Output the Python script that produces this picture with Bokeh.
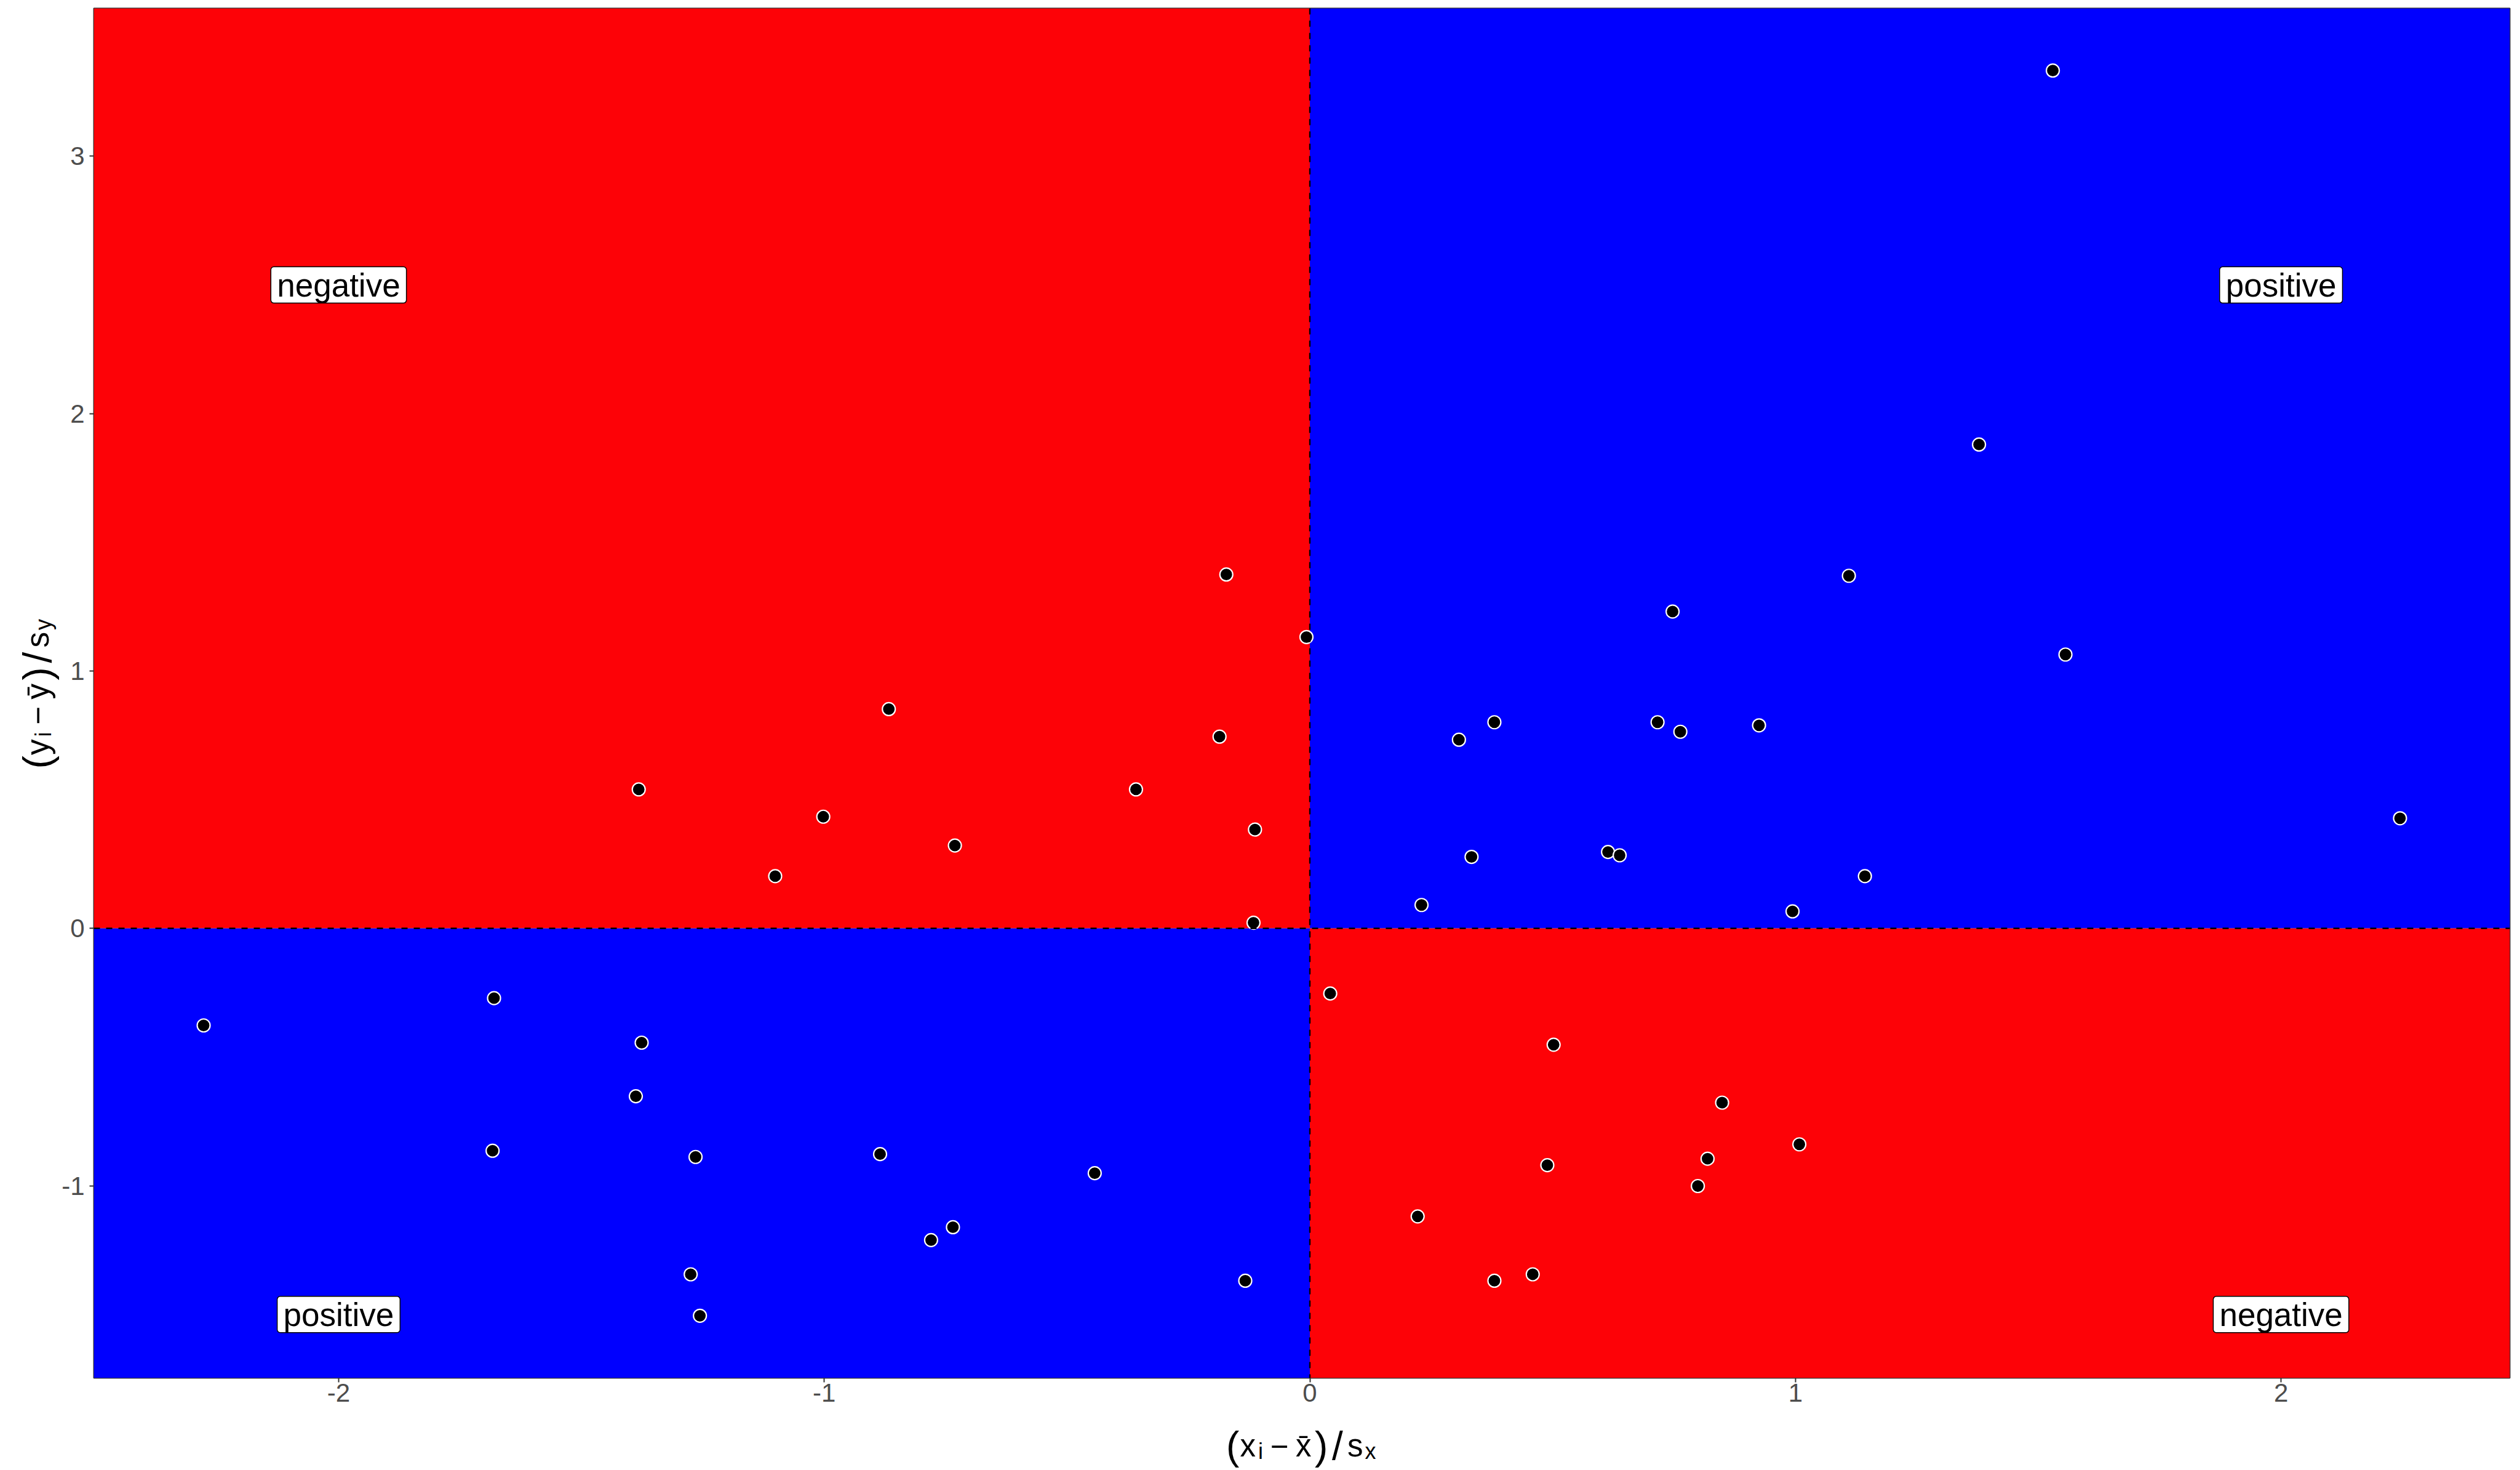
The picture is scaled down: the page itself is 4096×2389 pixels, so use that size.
import math
from bokeh.plotting import figure
from bokeh.models import Range1d, Label, Span, ColumnDataSource
from bokeh.core.properties import value
from bokeh.embed import file_html
from bokeh.resources import INLINE

# ---- data (standardised scores) ----
x_std = [1.530, 1.378, 1.110, 1.556, 0.747, 0.380, 0.307, 0.716, 0.763, 0.925,
         0.333, 0.614, 0.638, 1.143, 0.994, 0.230, 2.245, -0.007,
         -0.172, -0.867, -0.186, -1.382, -1.002, -0.358, -0.731, -0.113, -1.101, -0.116,
         -2.278, -1.680, -1.376, -1.388, -1.683, -1.265, -0.885, -0.443, -0.735, -0.780,
         -1.275, -1.256, -0.133,
         0.042, 0.502, 0.849, 1.008, 0.489, 0.819, 0.799, 0.222, 0.380, 0.459]
y_std = [3.333, 1.880, 1.370, 1.064, 1.231, 0.801, 0.733, 0.801, 0.764, 0.789,
         0.278, 0.297, 0.284, 0.203, 0.066, 0.091, 0.428, 1.132,
         1.375, 0.852, 0.745, 0.540, 0.434, 0.540, 0.322, 0.384, 0.203, 0.022,
         -0.377, -0.271, -0.444, -0.652, -0.864, -0.888, -0.877, -0.951, -1.161, -1.211,
         -1.344, -1.505, -1.369,
         -0.253, -0.452, -0.677, -0.839, -0.920, -0.895, -1.001, -1.119, -1.369, -1.344]

quad_text = ["negative", "positive", "positive", "negative"]
quad_text_x = [-2, 2, -2, 2]
quad_text_y = [2.5, 2.5, -1.5, -1.5]
x_ticks = [-2, -1, 0, 1, 2]
y_ticks = [-1, 0, 1, 2, 3]

RED = "#FD0207"
BLUE = "#0000FF"

# ranges: data range expanded by 5% on each side
xmin, xmax = min(x_std), max(x_std)
ymin, ymax = min(y_std), max(y_std)
x_lo, x_hi = xmin - 0.05 * (xmax - xmin), xmax + 0.05 * (xmax - xmin)
y_lo, y_hi = ymin - 0.05 * (ymax - ymin), ymax + 0.05 * (ymax - ymin)

W, H = 4096, 2389
p = figure(width=W, height=H, output_backend="svg", toolbar_location=None,
           x_range=Range1d(x_lo, x_hi), y_range=Range1d(y_lo, y_hi),
           min_border_left=152, min_border_right=17, min_border_top=13,
           min_border_bottom=150)
p.background_fill_color = "white"
p.border_fill_color = "white"
p.grid.visible = False
p.outline_line_color = "#333333"
p.outline_line_width = 2

# quadrant fills
quads = ColumnDataSource(dict(
    left=[x_lo, 0, x_lo, 0], right=[0, x_hi, 0, x_hi],
    bottom=[0, 0, y_lo, y_lo], top=[y_hi, y_hi, 0, 0],
    color=[RED, BLUE, BLUE, RED]))
p.quad(left="left", right="right", bottom="bottom", top="top", source=quads,
       fill_color="color", line_color=None)

# dashed mean lines
p.add_layout(Span(location=0, dimension="height", line_color="black",
                  line_width=2.4, line_dash="10 10"))
p.add_layout(Span(location=0, dimension="width", line_color="black",
                  line_width=2.4, line_dash="10 10"))

# points
p.scatter(x_std, y_std, size=21, fill_color="black", line_color="white",
          line_width=2.2)

# quadrant labels
for t, lx, ly in zip(quad_text, quad_text_x, quad_text_y):
    p.add_layout(Label(x=lx, y=ly, text=t, text_align="center",
                       text_baseline="middle", text_font="Liberation Sans",
                       text_font_size="53px", text_color="black",
                       background_fill_color="white", border_line_color="black",
                       border_line_width=1.5, border_radius=5, padding=(10, 0)))

# axes
for ax in (p.xaxis[0], p.yaxis[0]):
    ax.axis_line_color = None
    ax.major_tick_line_color = "#333333"
    ax.major_tick_line_width = 2
    ax.major_tick_out = 7
    ax.major_tick_in = 0
    ax.minor_tick_line_color = None
    ax.major_label_text_font = "Liberation Sans"
    ax.major_label_text_font_size = "42px"
    ax.major_label_text_color = "#4D4D4D"
p.xaxis.ticker = x_ticks
p.yaxis.ticker = y_ticks
p.xaxis.major_label_overrides = {t: str(t) for t in x_ticks}
p.yaxis.major_label_overrides = {t: str(t) for t in y_ticks}
p.xaxis.major_label_standoff = 2
p.yaxis.major_label_standoff = 8

# axis titles composed of pieces: (text, offset along, shift down, font px)
def pieces(v):
    return [("(", -123, 0, 64), (v, -100.5, 0, 51), ("i", -71, 8.9, 36),
            ("\u2212", -51, 0, 51), (v + "\u0304", -10, 0, 51), (")", 21, 0, 64),
            ("/", 49, 0, 64), ("s", 74, 0, 51), (v, 102.5, 8.9, 36)]

xc = (x_lo + x_hi) / 2
yc = (y_lo + y_hi) / 2
px = pieces("x")
xt = ColumnDataSource(dict(
    x=[xc] * len(px), y=[y_lo] * len(px), text=[a[0] for a in px],
    xo=[a[1] for a in px], yo=[110 + a[2] for a in px],
    fs=[f"{a[3]}px" for a in px]))
p.text(x="x", y="y", text="text", x_offset="xo", y_offset="yo", source=xt,
       text_font_size="fs", text_font=value("Liberation Sans"),
       text_color="black", text_align="left", text_baseline="alphabetic",
       level="overlay")
py = pieces("y")
yt = ColumnDataSource(dict(
    x=[x_lo] * len(py), y=[yc] * len(py), text=[a[0] for a in py],
    xo=[-91.4 + a[2] for a in py], yo=[-a[1] for a in py],
    fs=[f"{a[3]}px" for a in py]))
p.text(x="x", y="y", text="text", x_offset="xo", y_offset="yo", source=yt,
       text_font_size="fs", text_font=value("Liberation Sans"), angle=math.pi / 2,
       text_color="black", text_align="left", text_baseline="alphabetic",
       level="overlay")

open("out.html", "w").write(file_html(p, INLINE))
